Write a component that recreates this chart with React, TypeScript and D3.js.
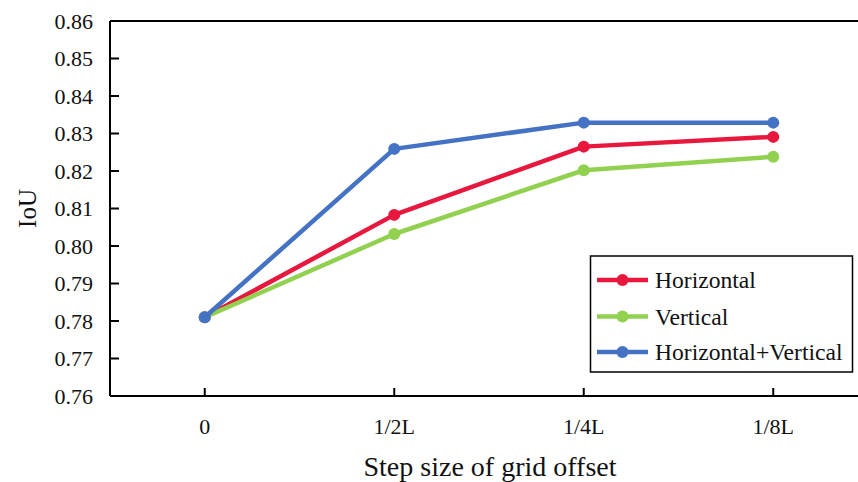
import React from "react";
import * as d3 from "d3";

const categories = ["0", "1/2L", "1/4L", "1/8L"];
const horizontal = [0.781, 0.8083, 0.8265, 0.8291];
const vertical = [0.781, 0.8032, 0.8202, 0.8238];
const horizontalVertical = [0.781, 0.8259, 0.8329, 0.8329];
const yTicks = [0.76, 0.77, 0.78, 0.79, 0.8, 0.81, 0.82, 0.83, 0.84, 0.85, 0.86];

const seriesNames = ["Horizontal", "Vertical", "Horizontal+Vertical"];
const seriesColors = ["#E8173D", "#92D050", "#4472C4"];

export default function App() {
  const W = 858, H = 482;
  const left = 110, top = 21, bottom = 396, right = 868;
  const x = d3.scaleBand<string>().domain(categories).range([left, right]);
  const y = d3.scaleLinear().domain([0.76, 0.86]).range([bottom, top]);
  const cx = (c: string) => (x(c) as number) + x.bandwidth() / 2;
  const line = d3
    .line<number>()
    .x((_, i) => cx(categories[i]))
    .y((d) => y(d));
  const series = [horizontal, vertical, horizontalVertical];
  const font = '"Liberation Serif", "Times New Roman", Times, "DejaVu Serif", serif';
  const legendRows = [280, 316.5, 352];

  return (
    <svg width={W} height={H} style={{ position: "absolute", left: 0, top: 0, background: "#fff", fontFamily: font }}>
      {/* axes */}
      <line x1={left} x2={left} y1={top} y2={bottom} stroke="#000" strokeWidth={2} />
      <line x1={left} x2={right} y1={top} y2={top} stroke="#000" strokeWidth={2} />
      <line x1={left} x2={right} y1={bottom} y2={bottom} stroke="#000" strokeWidth={2} />
      {yTicks.map((t) => (
        <g key={t}>
          <line x1={left} x2={left + 9} y1={y(t)} y2={y(t)} stroke="#000" strokeWidth={2} />
          <text x={93} y={y(t)} dy="0.35em" textAnchor="end" fontSize={22} fill="#111" style={{ fontFamily: font }}>
            {t.toFixed(2)}
          </text>
        </g>
      ))}
      {categories.map((c) => (
        <g key={c}>
          <line x1={cx(c)} x2={cx(c)} y1={bottom} y2={bottom - 8} stroke="#000" strokeWidth={2} />
          <text x={cx(c)} y={434} textAnchor="middle" fontSize={22} fill="#111" style={{ fontFamily: font }}>
            {c}
          </text>
        </g>
      ))}
      <text x={490} y={476} textAnchor="middle" fontSize={28} fill="#111" style={{ fontFamily: font }}>
        Step size of grid offset
      </text>
      <text transform={`translate(36, ${y(0.81)}) rotate(-90)`} textAnchor="middle" fontSize={25} fill="#111" style={{ fontFamily: font }}>
        IoU
      </text>
      {/* series */}
      {series.map((s, si) => (
        <g key={si}>
          <path d={line(s) || ""} fill="none" stroke={seriesColors[si]} strokeWidth={4.5} strokeLinejoin="round" />
          {s.map((v, i) => (
            <circle key={i} cx={cx(categories[i])} cy={y(v)} r={6} fill={seriesColors[si]} />
          ))}
        </g>
      ))}
      {/* legend */}
      <rect x={590.5} y={256} width={262} height={116} fill="#fff" stroke="#000" strokeWidth={1.5} />
      {seriesNames.map((n, i) => (
        <g key={n}>
          <line x1={597} x2={648} y1={legendRows[i]} y2={legendRows[i]} stroke={seriesColors[i]} strokeWidth={4.5} />
          <circle cx={622.5} cy={legendRows[i]} r={6} fill={seriesColors[i]} />
          <text x={655} y={legendRows[i]} dy="0.35em" fontSize={23.6} fill="#111" style={{ fontFamily: font }}>
            {n}
          </text>
        </g>
      ))}
    </svg>
  );
}
